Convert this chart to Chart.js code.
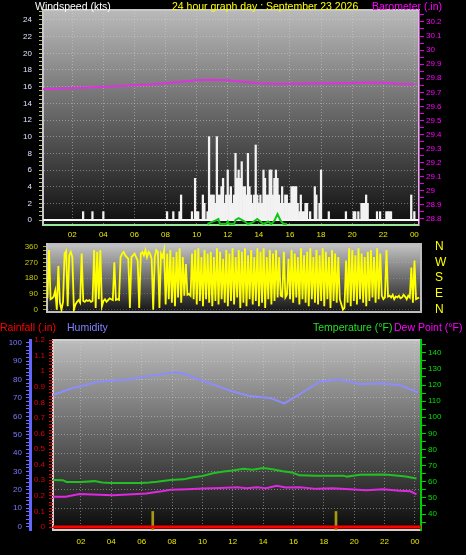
<!DOCTYPE html>
<html lang="en">
  <head>
    <meta charset="UTF-8" />
    <title>24 hour graph day : September 23 2026</title>
    <script src="https://cdn.jsdelivr.net/npm/chart.js"></script>
    <style>
      body { margin: 0; background: #000; overflow: hidden; }
      .wrap { position: relative; width: 466px; height: 555px; font-family: "Liberation Sans", Arial, sans-serif; }
      canvas { position: absolute; left: 0; }
      .lbl { position: absolute; font-size: 10.5px; line-height: 12px; white-space: nowrap; }
    </style>
  </head>
  <body>
    <div class="wrap">
      <canvas id="wind" width="466" height="242" style="top:0;width:466px;height:242px"></canvas>
      <canvas id="dir" width="466" height="80" style="top:240px;width:466px;height:80px"></canvas>
      <canvas id="temp" width="466" height="223" style="top:332px;width:466px;height:223px"></canvas>

      <div class="lbl" style="left:35px;top:0;color:#ffffff">Windspeed (kts)</div>
      <div class="lbl" style="left:172px;top:0;color:#ffff00">24 hour graph day : September 23 2026</div>
      <div class="lbl" style="left:372px;top:0;color:#ff00ff">Barometer (.in)</div>
      <div class="lbl" style="left:0;top:321px;color:#ff0000">Rainfall (.in)</div>
      <div class="lbl" style="left:67px;top:321px;color:#8080ff">Humidity</div>
      <div class="lbl" style="left:313px;top:321px;color:#22e022">Temperature (°F)</div>
      <div class="lbl" style="left:394px;top:321px;color:#ff00ff">Dew Point (°F)</div>
    </div>

    <script>
      // hour axis
      const HOUR_TICKS = [2, 4, 6, 8, 10, 12, 14, 16, 18, 20, 22, 24];
      const HOUR_LABELS = ["02", "04", "06", "08", "10", "12", "14", "16", "18", "20", "22", "00"];

      // wind gusts (kts), one value every 0.1 h from 00:00
      const GUST_START = 0;
      const GUST_STEP = 0.1;
      const GUST_KTS = [
        0, 0, 0, 0, 0, 0, 0, 0, 0, 0,
        0, 0, 0, 0, 0, 0, 0, 0, 0, 0,
        0, 0, 0, 0, 0, 0, 0, 1, 0, 0,
        0, 0, 0, 1, 0, 0, 0, 0, 0, 0,
        1, 0, 0, 0, 0, 0, 0, 0, 0, 0,
        0, 0, 0, 0, 0, 0, 0, 0, 0, 0,
        0, 0, 0, 0, 0, 0, 0, 0, 0, 0,
        0, 0, 0, 0, 0, 0, 0, 0, 0, 0,
        0, 1, 0, 0, 0, 1, 0, 0, 0, 1,
        3, 0, 0, 0, 0, 0, 0, 1, 0, 5,
        1, 1, 0, 0, 3, 2, 0, 1, 10, 3,
        3, 3, 2, 10, 3, 3, 4, 5, 2, 3,
        6, 3, 4, 2, 3, 8, 5, 6, 5, 7,
        4, 4, 3, 8, 4, 3, 2, 3, 9, 3,
        2, 3, 2, 6, 5, 3, 3, 6, 6, 3,
        5, 6, 5, 3, 2, 4, 2, 3, 3, 2,
        2, 4, 4, 4, 4, 2, 1, 3, 1, 1,
        2, 2, 0, 1, 0, 0, 4, 3, 0, 2,
        6, 0, 0, 0, 0, 1, 0, 0, 0, 0,
        0, 0, 0, 0, 0, 0, 1, 0, 0, 0,
        0, 1, 1, 0, 1, 0, 2, 2, 2, 3,
        2, 0, 0, 0, 0, 0, 1, 0, 1, 0,
        0, 0, 1, 1, 1, 1, 0, 0, 0, 0,
        0, 0, 0, 0, 0, 0, 0, 0, 3, 0,
        1, 0, 0
      ];

      // average wind (kts)
      const AVG_HOURS = [10.7, 10.9, 11.2, 11.4, 11.5, 11.9, 12.0, 12.1, 12.4, 12.5, 12.7, 12.9, 13.1, 13.3, 13.6, 13.9, 14.1, 14.3, 14.6, 14.8, 15.0, 15.2, 15.4, 15.6, 15.8];
      const AVG_KTS = [0, 0.2, 0.4, 0.6, 0, 0, 0.3, 0, 0, 0.5, 0.7, 0.5, 0.3, 0, 0.2, 0.6, 0.3, 0, 0.3, 0, 0.4, 1.2, 0.4, 0, 0];

      // barometer (in)
      const BARO_HOURS = [0, 1, 2, 3, 4, 5, 6, 7, 8, 9, 10, 11, 12, 13, 14, 15, 16, 17, 18, 19, 20, 21, 22, 23, 24];
      const BARO_IN = [29.722, 29.725, 29.73, 29.735, 29.74, 29.745, 29.75, 29.755, 29.765, 29.775, 29.785, 29.79, 29.785, 29.775, 29.765, 29.76, 29.76, 29.762, 29.764, 29.765, 29.767, 29.77, 29.768, 29.76, 29.755];
      const WIND_TICKS = [0, 2, 4, 6, 8, 10, 12, 14, 16, 18, 20, 22, 24];
      const BARO_TICKS = [28.8, 28.9, 29, 29.1, 29.2, 29.3, 29.4, 29.5, 29.6, 29.7, 29.8, 29.9, 30, 30.1, 30.2];

      // wind direction (deg), one value every 0.1 h from 00:24
      const DIR_START = 0.4;
      const DIR_STEP = 0.1;
      const DIR_DEG = [
        65, 340, 60, 65, 75, 110,
        0, 250, 40, 0, 45, 320, 335, 20, 310, 330,
        300, 0, 30, 45, 55, 40, 320, 50, 45, 55,
        50, 55, 45, 50, 340, 10, 330, 60, 340, 20,
        50, 60, 45, 55, 65, 60, 55, 270, 56, 60,
        56, 300, 320, 330, 310, 300, 290, 10, 300, 310,
        320, 300, 280, 10, 320, 330, 310, 340, 300, 330,
        320, 290, 0, 300, 340, 330, 10, 320, 300, 340,
        30, 320, 60, 340, 40, 300, 20, 330, 70, 350,
        40, 300, 80, 260, 85, 90, 80, 320, 60, 340,
        30, 350, 50, 300, 20, 340, 60, 320, 40, 330,
        20, 300, 50, 350, 30, 330, 60, 290, 40, 340,
        20, 320, 50, 350, 30, 300, 70, 340, 10, 330,
        40, 350, 20, 310, 60, 340, 30, 300, 50, 350,
        20, 330, 40, 350, 10, 300, 60, 340, 30, 320,
        50, 340, 70, 300, 80, 75, 330, 70, 85, 290,
        60, 340, 40, 320, 70, 300, 30, 350, 60, 310,
        40, 330, 20, 350, 60, 300, 40, 340, 30, 310,
        50, 350, 20, 330, 60, 300, 10, 340, 50, 320,
        40, 300, 60, 30, 0, 10, 280, 40, 350, 20,
        340, 50, 310, 30, 350, 60, 320, 40, 300, 20,
        330, 50, 340, 70, 300, 40, 350, 60, 320, 80,
        60, 70, 340, 75, 80, 70, 85, 60, 75, 70,
        80, 65, 70, 85, 75, 60, 80, 70, 240, 40,
        280, 60, 65, 70
      ];
      const DIR_TICKS = [0, 90, 180, 270, 360];
      const COMPASS_LABELS = ["N", "E", "S", "W", "N"];

      // temperature / dew point (F)
      const TEMP_HOURS = [0.16, 0.8, 1.05, 2, 2.9, 3.4, 4, 5, 6, 6.5, 7, 7.9, 8.75, 9.4, 10, 10.7, 11.4, 12, 12.7, 13.3, 14, 14.6, 15.3, 15.9, 16.4, 17.5, 18.5, 19.3, 19.5, 20.4, 22, 22.6, 23.4, 24.1];
      const TEMP_F = [61.1, 61, 59.9, 59.9, 60.4, 59.5, 59.3, 59.3, 59.3, 59.5, 60, 61.1, 61.5, 62.8, 63.6, 65.3, 66.4, 67, 68.1, 67.5, 68.6, 67.8, 66.5, 65.7, 64, 63.8, 63.8, 63.8, 63.2, 64.3, 64.5, 64, 63.2, 62];
      const DEW_HOURS = [0.16, 1, 1.9, 3.2, 4.1, 5.4, 6.3, 7.2, 7.9, 9, 10, 11.2, 12.3, 12.9, 13.6, 14.2, 14.9, 15.5, 16.4, 17.5, 18.6, 19.7, 20.8, 21.9, 23, 23.7, 24.1];
      const DEW_F = [50.7, 50.7, 52.4, 52, 51.6, 52.2, 52.8, 53.9, 55, 55.4, 55.8, 56.2, 56.6, 56, 56.6, 56, 57.5, 56.4, 56.6, 55.6, 56, 55.4, 54.7, 55.4, 54.5, 54.1, 52.2];
      const TEMP_TICKS = [40, 50, 60, 70, 80, 90, 100, 110, 120, 130, 140];

      // humidity (%)
      const HUM_HOURS = [0.16, 1.3, 3.25, 5.2, 6.5, 8.2, 8.85, 9.8, 11.8, 13.1, 14.45, 15.4, 16.4, 17.75, 19.05, 20.4, 21.7, 23, 24.2];
      const HUM_PCT = [71.5, 75, 79, 80, 82, 84, 83, 80, 74, 71, 70, 67, 72, 79, 80, 77.5, 78, 77, 73];
      const HUM_TICKS = [0, 10, 20, 30, 40, 50, 60, 70, 80, 90, 100];

      // rainfall (in)
      const RAIN_HOURS = [0.16, 24.4];
      const RAIN_IN = [0, 0];
      const RATE_HOURS = [6.73, 18.8];
      const RATE_IN = [0.1, 0.1];
      const RAIN_TICKS = [0, 0.1, 0.2, 0.3, 0.4, 0.5, 0.6, 0.7, 0.8, 0.9, 1, 1.1, 1.2];

      const GRID = "rgba(215, 215, 215, 0.45)";
      const tickFont = { family: "'Liberation Sans', Arial, sans-serif", size: 8 };

      function tickList(from, to, step) {
        const out = [];
        for (let v = from; v <= to + step / 2; v += step) out.push(Math.round(v * 1000) / 1000);
        return out;
      }
      function setTicks(values) {
        return (scale) => {
          scale.ticks = values.map((value) => ({ value }));
        };
      }
      function inList(list, v) {
        return list.some((t) => Math.abs(t - v) < 1e-6);
      }
      function xy(xs, ys) {
        return ys.map((y, i) => ({ x: xs[i], y }));
      }
      function stepped(start, step, ys) {
        return ys.map((y, i) => ({ x: Math.round((start + i * step) * 100) / 100, y }));
      }
      // pin axis sizes so every plot area lands where the original has it
      function fixWidth(w) {
        return (s) => {
          s.width = w;
          s.paddingTop = 0;
          s.paddingBottom = 0;
        };
      }
      function fixHeight(h) {
        return (s) => {
          s.height = h;
          s.paddingLeft = 0;
          s.paddingRight = 0;
        };
      }
      function hourAxis(min, max, height, padding) {
        return {
          type: "linear",
          min: min,
          max: max,
          offset: false,
          afterBuildTicks: setTicks(HOUR_TICKS),
          afterFit: fixHeight(height),
          ticks: {
            autoSkip: false,
            maxRotation: 0,
            padding: padding,
            color: "#e8e800",
            font: tickFont,
            callback: (v) => HOUR_LABELS[HOUR_TICKS.indexOf(v)],
          },
          grid: { color: GRID, drawTicks: false, offset: false },
        };
      }

      const plotBackground = {
        id: "plotBackground",
        beforeDraw(chart, args, opts) {
          const { ctx, chartArea: a } = chart;
          const g = ctx.createLinearGradient(0, a.top, 0, a.bottom);
          g.addColorStop(0, opts.top);
          g.addColorStop(1, opts.bottom);
          ctx.save();
          ctx.fillStyle = g;
          ctx.fillRect(a.left, a.top, a.width, a.height);
          if (opts.frame) {
            ctx.strokeStyle = opts.frame;
            ctx.lineWidth = 2;
            ctx.strokeRect(a.left, a.top, a.width, a.height);
          }
          ctx.restore();
        },
        beforeDatasetsDraw(chart, args, opts) {
          if (!opts.zeroAxis) return;
          const { ctx, chartArea: a } = chart;
          const y = chart.scales[opts.zeroAxis].getPixelForValue(0);
          ctx.save();
          ctx.strokeStyle = opts.zeroColor;
          ctx.lineWidth = 2;
          ctx.beginPath();
          ctx.moveTo(a.left, y);
          ctx.lineTo(a.right, y);
          ctx.stroke();
          ctx.restore();
        },
      };

      const common = {
        responsive: false,
        animation: false,
        events: [],
        elements: { point: { radius: 0 }, line: { tension: 0 } },
      };

      function windChart() {
        new Chart(document.getElementById("wind"), {
          type: "line",
          data: {
            datasets: [
              {
                label: "Barometer",
                data: xy(BARO_HOURS, BARO_IN),
                yAxisID: "baro",
                borderColor: "#e030e0",
                borderWidth: 2,
              },
              {
                label: "Average",
                data: xy(AVG_HOURS, AVG_KTS),
                yAxisID: "avg",
                borderColor: "#10c810",
                borderWidth: 2,
              },
              {
                type: "bar",
                label: "Gust",
                data: stepped(GUST_START, GUST_STEP, GUST_KTS),
                yAxisID: "y",
                backgroundColor: "#f2f2f2",
                barThickness: 1.6,
              },
            ],
          },
          options: {
            ...common,
            layout: { padding: { top: 10, left: 0, right: 0, bottom: 0 } },
            plugins: {
              legend: { display: false },
              tooltip: { enabled: false },
              plotBackground: { top: "#bababa", bottom: "#0e0e0e", frame: "#c8c8c8", zeroAxis: "y", zeroColor: "#ffffff" },
            },
            scales: {
              x: {
                ...hourAxis(0.12, 24.3, 17, 5),
                border: { color: "#98e898", width: 2, dash: [1, 2] },
              },
              y: {
                position: "left",
                min: -0.6,
                max: 25.2,
                afterBuildTicks: setTicks(tickList(0, 25, 0.5)),
                afterFit: fixWidth(43),
                ticks: {
                  autoSkip: false,
                  padding: 7,
                  color: "#dde4ff",
                  font: tickFont,
                  callback: (v) => (inList(WIND_TICKS, v) ? String(v) : ""),
                },
                grid: {
                  color: (c) => (inList(WIND_TICKS, c.tick.value) && c.tick.value > 0 ? GRID : "transparent"),
                  tickColor: "#b8b860",
                  tickLength: 4,
                },
                border: { color: "#c8c8c8", width: 2, dash: [1, 2] },
              },
              avg: { display: false, min: -0.12, max: 25.7 },
              baro: {
                position: "right",
                min: 28.757,
                max: 30.285,
                afterBuildTicks: setTicks(tickList(28.8, 30.25, 0.05)),
                afterFit: fixWidth(47),
                ticks: {
                  autoSkip: false,
                  padding: 2,
                  color: "#ff00ff",
                  font: tickFont,
                  callback: (v) => (inList(BARO_TICKS, v) ? String(Math.round(v * 10) / 10) : ""),
                },
                grid: { drawOnChartArea: false, tickColor: "#e000e0", tickLength: 5 },
                border: { color: "#c040c0", width: 1 },
              },
            },
          },
          plugins: [plotBackground],
        });
      }

      function dirChart() {
        new Chart(document.getElementById("dir"), {
          type: "line",
          data: {
            datasets: [
              {
                label: "Direction",
                data: stepped(DIR_START, DIR_STEP, DIR_DEG),
                yAxisID: "y",
                borderColor: "#ffff00",
                borderWidth: 1.8,
              },
            ],
          },
          options: {
            ...common,
            layout: { padding: { top: 4, left: 0, right: 0, bottom: 8 } },
            plugins: {
              legend: { display: false },
              tooltip: { enabled: false },
              plotBackground: { top: "#c4c4c4", bottom: "#141414", frame: "#bdbdbd" },
            },
            scales: {
              x: { type: "linear", min: 0.37, max: 24.42, offset: false, display: false },
              y: {
                position: "left",
                min: -13,
                max: 375,
                afterBuildTicks: setTicks(tickList(0, 360, 22.5)),
                afterFit: fixWidth(47),
                ticks: {
                  autoSkip: false,
                  padding: 5,
                  color: "#c8c800",
                  font: tickFont,
                  callback: (v) => (inList(DIR_TICKS, v) ? String(v) : ""),
                },
                grid: {
                  color: (c) => (inList(DIR_TICKS, c.tick.value) ? "rgba(220,220,220,0.25)" : "transparent"),
                  tickColor: "#b0b000",
                  tickLength: 4,
                },
                border: { color: "#c8c8c8", width: 2, dash: [1, 2] },
              },
              compass: {
                position: "right",
                min: -13,
                max: 375,
                afterBuildTicks: setTicks(DIR_TICKS),
                afterFit: fixWidth(45),
                ticks: {
                  autoSkip: false,
                  padding: 14,
                  color: "#ffff00",
                  font: { family: "'Liberation Sans', Arial, sans-serif", size: 12 },
                  callback: (v) => COMPASS_LABELS[DIR_TICKS.indexOf(v)],
                },
                grid: { display: false, drawTicks: false },
                border: { display: false },
              },
            },
          },
          plugins: [plotBackground],
        });
      }

      function tempChart() {
        new Chart(document.getElementById("temp"), {
          type: "line",
          data: {
            datasets: [
              {
                label: "Rainfall",
                data: xy(RAIN_HOURS, RAIN_IN),
                yAxisID: "rain",
                borderColor: "#ff0000",
                borderWidth: 3,
              },
              {
                label: "Humidity",
                data: xy(HUM_HOURS, HUM_PCT),
                yAxisID: "hum",
                borderColor: "#8c8cff",
                borderWidth: 2,
              },
              {
                label: "Temperature",
                data: xy(TEMP_HOURS, TEMP_F),
                yAxisID: "temp",
                borderColor: "#22c022",
                borderWidth: 2,
              },
              {
                label: "Dew Point",
                data: xy(DEW_HOURS, DEW_F),
                yAxisID: "temp",
                borderColor: "#e028e0",
                borderWidth: 2,
              },
              {
                type: "bar",
                label: "Rain rate",
                data: xy(RATE_HOURS, RATE_IN),
                yAxisID: "rain",
                backgroundColor: "#a89a10",
                barThickness: 2,
                base: -0.019,
              },
            ],
          },
          options: {
            ...common,
            layout: { padding: { top: 8, left: 0, right: 0, bottom: 0 } },
            plugins: {
              legend: { display: false },
              tooltip: { enabled: false },
              plotBackground: { top: "#bdbdbd", bottom: "#0a0a0a", frame: "#d0d0d0" },
            },
            scales: {
              x: {
                ...hourAxis(0.16, 24.4, 25, 7),
                border: { color: "#d0d0d0", width: 2, dash: [1, 2] },
              },
              hum: {
                position: "left",
                weight: 1,
                min: -1.8,
                max: 101.5,
                afterBuildTicks: setTicks(tickList(0, 100, 2)),
                afterFit: fixWidth(30),
                ticks: {
                  autoSkip: false,
                  padding: 4,
                  color: "#7b7bff",
                  font: tickFont,
                  callback: (v) => (inList(HUM_TICKS, v) ? String(v) : ""),
                },
                grid: {
                  color: (c) => (inList(HUM_TICKS, c.tick.value) && c.tick.value > 0 ? GRID : "transparent"),
                  tickColor: "#7070ff",
                  tickLength: 4,
                },
                border: { color: "#6464ff", width: 3, dash: [1, 2] },
              },
              rain: {
                position: "left",
                weight: 0,
                min: -0.019,
                max: 1.2,
                afterBuildTicks: setTicks(tickList(0, 1.2, 0.02)),
                afterFit: fixWidth(23),
                ticks: {
                  autoSkip: false,
                  padding: 4,
                  color: "#e00000",
                  font: tickFont,
                  callback: (v) => (inList(RAIN_TICKS, v) ? String(Math.round(v * 10) / 10) : ""),
                },
                grid: { drawOnChartArea: false, tickColor: "#e00000", tickLength: 4 },
                border: { display: false },
              },
              temp: {
                position: "right",
                min: 30.1,
                max: 147.9,
                afterBuildTicks: setTicks(tickList(35, 145, 5)),
                afterFit: fixWidth(45),
                ticks: {
                  autoSkip: false,
                  padding: 2,
                  color: "#00e000",
                  font: tickFont,
                  callback: (v) => (inList(TEMP_TICKS, v) ? String(v) : ""),
                },
                grid: { drawOnChartArea: false, tickColor: "#00d000", tickLength: 5 },
                border: { color: "#00d000", width: 2 },
              },
            },
          },
          plugins: [plotBackground],
        });
      }

      document.addEventListener("DOMContentLoaded", () => {
        windChart();
        dirChart();
        tempChart();
      });
    </script>
  </body>
</html>
